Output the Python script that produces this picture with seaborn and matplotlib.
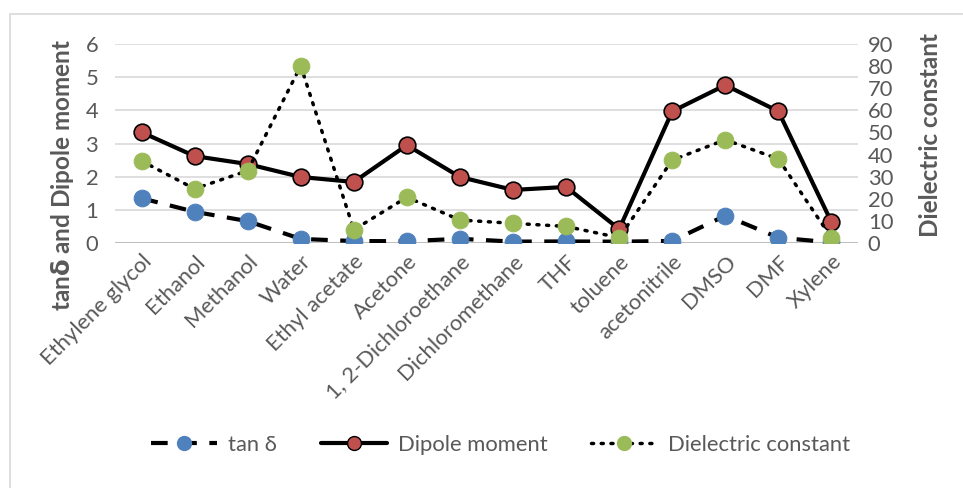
import matplotlib
matplotlib.use("Agg")
import matplotlib.pyplot as plt
import seaborn as sns
import pandas as pd
from matplotlib.lines import Line2D
from matplotlib.patches import Rectangle

solvents = ["Ethylene glycol", "Ethanol", "Methanol", "Water", "Ethyl acetate", "Acetone",
            "1, 2-Dichloroethane", "Dichloromethane", "THF", "toluene", "acetonitrile",
            "DMSO", "DMF", "Xylene"]
tan_delta = [1.35, 0.941, 0.659, 0.123, 0.059, 0.054, 0.127, 0.042, 0.047, 0.040, 0.062, 0.825, 0.161, 0.018]
dipole = [3.34, 2.62, 2.38, 1.99, 1.84, 2.95, 1.99, 1.60, 1.69, 0.42, 3.97, 4.76, 3.97, 0.63]
dielectric = [37.1, 24.5, 32.7, 80.1, 6.0, 20.7, 10.4, 8.9, 7.5, 2.4, 37.5, 46.7, 38.0, 2.3]

sns.set_theme(style="white")
plt.rcParams["font.family"] = ["Lato", "DejaVu Sans"]

df = pd.DataFrame({"x": range(len(solvents)), "tan": tan_delta, "dip": dipole, "die": dielectric})

fig = plt.figure(figsize=(9.63, 4.88), dpi=100)
ax = fig.add_axes([115/963, 1-243/488, (858-115)/963, (243-44)/488])
ax2 = ax.twinx()

grey = "#595959"
blue, red, green = "#4F81BD", "#C0504D", "#9BBB59"
fs = 15.8

for y in range(1, 7):
    ax.axhline(y, color="#D9D9D9", lw=1.2, zorder=0)
ax.axhline(0, color="#BFBFBF", lw=2.2, zorder=0)

sns.lineplot(data=df, x="x", y="tan", ax=ax, color="black", lw=3, linestyle=(0, (4, 3)),
             marker="o", markersize=12, markerfacecolor=blue, markeredgecolor=blue, zorder=3)
sns.lineplot(data=df, x="x", y="dip", ax=ax, color="black", lw=3, linestyle="-",
             marker="o", markersize=12, markerfacecolor=red, markeredgecolor="black",
             markeredgewidth=1.2, zorder=4)
sns.lineplot(data=df, x="x", y="die", ax=ax2, color="black", lw=2.5, linestyle=(0, (0.6, 2.2)),
             dash_capstyle="round", marker="o", markersize=12, markerfacecolor=green,
             markeredgecolor=green, zorder=3)

ax.set_xlim(-0.5, len(solvents) - 0.5)
ax.set_ylim(0, 6)
ax2.set_ylim(0, 90)
ax.set_yticks(range(0, 7))
ax2.set_yticks(range(0, 91, 10))
ax.set_xticks(range(len(solvents)))
ax.set_xticklabels(solvents, rotation=45, ha="right", rotation_mode="anchor")
for a in (ax, ax2):
    for s in a.spines.values():
        s.set_visible(False)
    a.tick_params(length=0, colors=grey, labelsize=fs)
ax.tick_params(axis="x", pad=6)
ax.tick_params(axis="y", pad=12)
ax2.tick_params(axis="y", pad=7)
ax.set_xlabel("")
ax.set_ylabel("tan$\\mathbf{\\delta}$ and Dipole moment", fontsize=17.5, fontweight="bold", color=grey)
ax2.set_ylabel("Dielectric constant", fontsize=17.5, fontweight="bold", color=grey)
ax.yaxis.set_label_coords((76 - 115) / 743, (243 - 175) / 199)
ax2.yaxis.set_label_coords((919 - 115) / 743, (243 - 135) / 199)
ax.grid(False)
ax2.grid(False)
ax.set_zorder(1)
ax2.set_zorder(2)
ax.patch.set_visible(False)
ax2.patch.set_visible(False)

handles = [
    Line2D([], [], color="black", lw=3, linestyle=(0, (4, 3)), marker="o", markersize=10,
           markerfacecolor=blue, markeredgecolor=blue),
    Line2D([], [], color="black", lw=3, marker="o", markersize=10,
           markerfacecolor=red, markeredgecolor="black"),
    Line2D([], [], color="black", lw=2.5, linestyle=(0, (0.6, 2.2)), dash_capstyle="round",
           marker="o", markersize=10, markerfacecolor=green, markeredgecolor=green),
]
fig.legend(handles, ["tan \u03b4", "Dipole moment", "Dielectric constant"], loc="center",
           bbox_to_anchor=(0.52, 1-445/488), ncol=3, frameon=False, fontsize=fs,
           labelcolor=grey, handlelength=3.0, columnspacing=2.0, handletextpad=0.5)

fig.add_artist(Rectangle((10/963, -0.1), 1.2, 1-14/488+0.1, transform=fig.transFigure,
                         fill=False, edgecolor="#D9D9D9", lw=1.2))

fig.savefig("out.png", dpi=100)
